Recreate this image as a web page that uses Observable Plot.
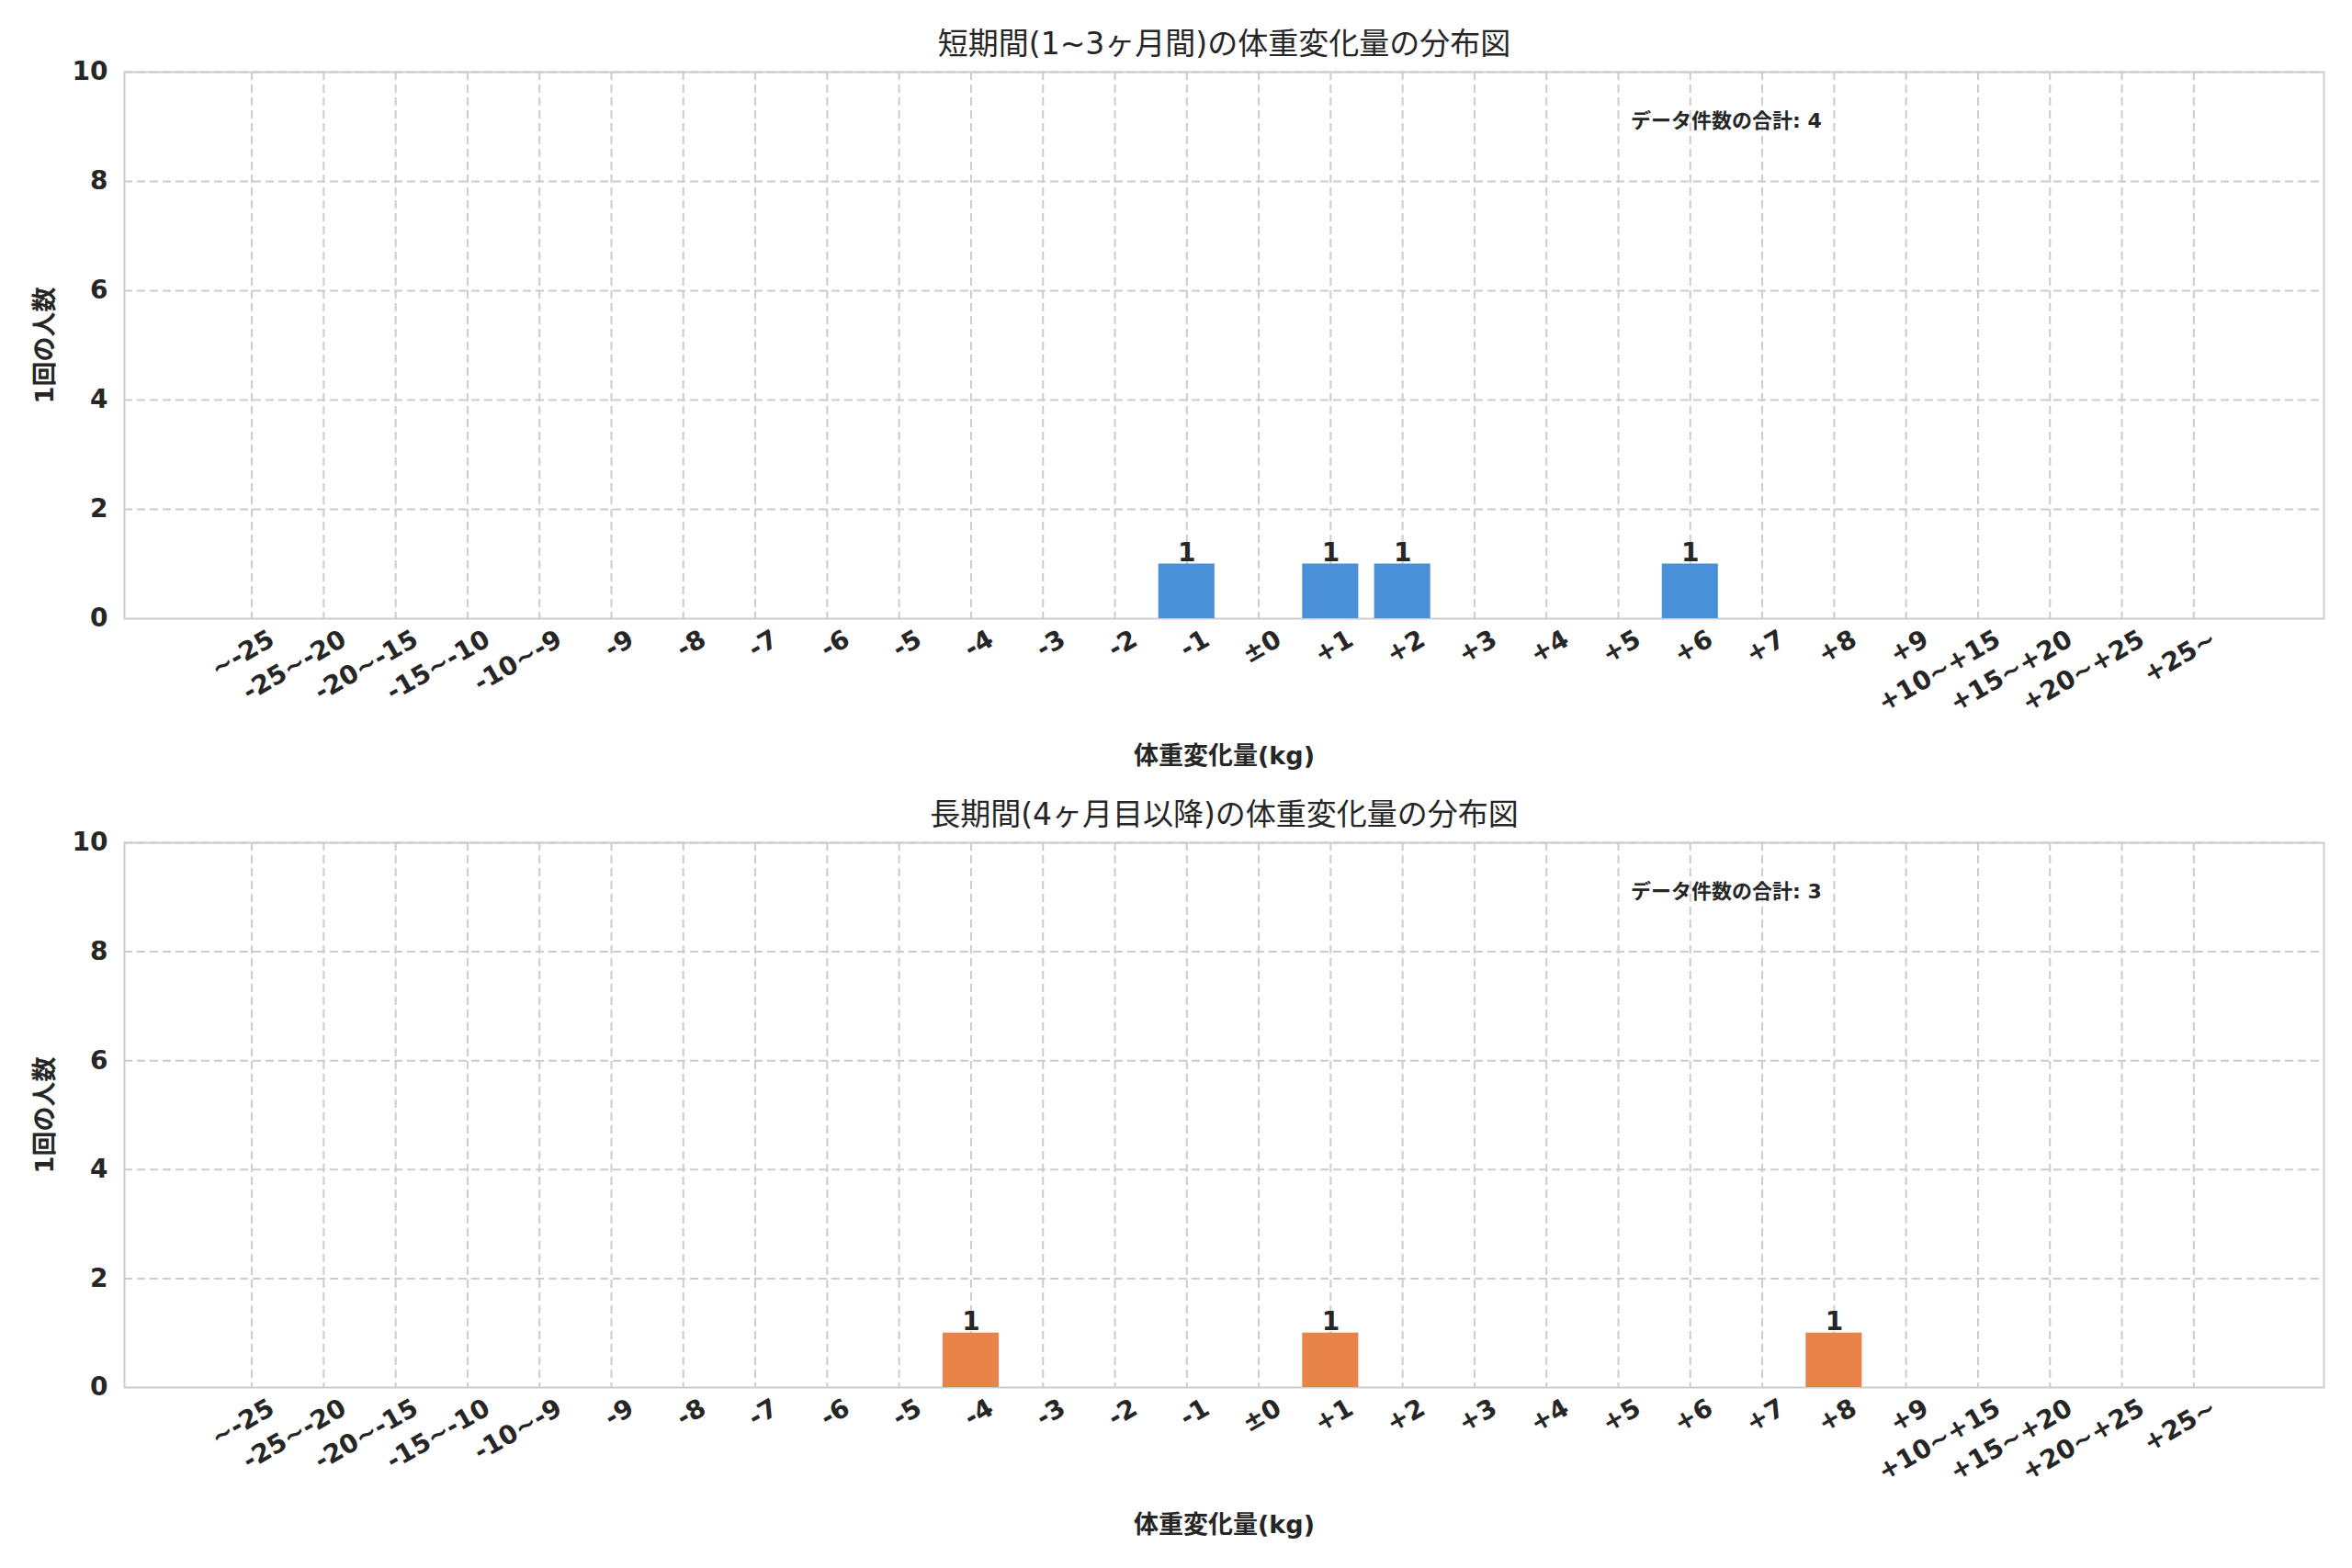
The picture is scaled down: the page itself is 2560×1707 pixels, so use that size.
<!DOCTYPE html>
<html><head><meta charset="utf-8">
<script src="https://cdn.jsdelivr.net/npm/d3@7"></script>
<script src="https://cdn.jsdelivr.net/npm/@observablehq/plot@0.6"></script>
<style>body{margin:0;background:#fff;font-family:"DejaVu Sans","Noto Sans CJK JP",sans-serif}svg{display:block}</style>
</head><body><div id="c"></div>
<script>
const categories = ["~-25","-25~-20","-20~-15","-15~-10","-10~-9","-9","-8","-7","-6","-5","-4","-3","-2","-1","±0","+1","+2","+3","+4","+5","+6","+7","+8","+9","+10~+15","+15~+20","+20~+25","+25~"];
const shortLabels = ["-1","+1","+2","+6"];
const shortCounts = [1,1,1,1];
const longLabels = ["-4","+1","+8"];
const longCounts = [1,1,1];
const titles = ["短期間(1~3ヶ月間)の体重変化量の分布図","長期間(4ヶ月目以降)の体重変化量の分布図"];
const totals = ["データ件数の合計: 4","データ件数の合計: 3"];
const colors = ["#4a90d9","#e8834a"];
const yTicks = [0,2,4,6,8,10];

function chart(labels, counts, title, total, color, h, mt, mb){
  const data = labels.map((l,k)=>({i:categories.indexOf(l), v:counts[k]}));
  const idx = categories.map((_,i)=>i);
  return Plot.plot({
    width:2560, height:h, marginTop:mt, marginBottom:mb, marginLeft:135, marginRight:31,
    style:{fontFamily:"DejaVu Sans, Noto Sans CJK JP, sans-serif", fontWeight:"bold", fontSize:"28px", color:"#262626"},
    x:{domain:[-1.77,28.81], label:null},
    y:{domain:[0,10], label:null},
    marks:[
      Plot.ruleX(idx,{stroke:"#cccccc",strokeWidth:2,strokeDasharray:"9,5"}),
      Plot.ruleY(yTicks.slice(1),{stroke:"#cccccc",strokeWidth:2,strokeDasharray:"9,5"}),
      Plot.frame({stroke:"#cccccc",strokeWidth:2}),
      Plot.rectY(data,{x1:d=>d.i-0.39,x2:d=>d.i+0.39,y:"v",fill:color}),
      Plot.text(data,{x:"i",y:"v",text:d=>String(d.v),dy:-12,fontSize:28,fontWeight:"bold",fill:"#262626"}),
      Plot.axisY({ticks:yTicks,tickSize:0,tickPadding:18,fontSize:28,label:null}),
      Plot.axisX({ticks:idx,tickFormat:i=>categories[i],tickSize:0,tickRotate:-30,tickPadding:14,fontSize:28,label:null,textAnchor:"end",dx:22,dy:6}),
      Plot.text([title],{frameAnchor:"top",lineAnchor:"middle",dy:-30,fontSize:33,fontWeight:"normal",fill:"#262626"}),
      Plot.text([total],{x:20.5,y:9.1,fontSize:22,fontWeight:"bold",fill:"#262626"}),
      Plot.text(["体重変化量(kg)"],{frameAnchor:"bottom",lineAnchor:"middle",dy:150,fontSize:27,fontWeight:"bold",fill:"#262626"}),
      Plot.text(["1回の人数"],{frameAnchor:"left",textAnchor:"middle",dx:-86,rotate:-90,fontSize:27,fontWeight:"bold",fill:"#262626"})
    ]
  });
}
const c = document.getElementById("c");
c.append(chart(shortLabels,shortCounts,titles[0],totals[0],colors[0],853,78,180));
c.append(chart(longLabels,longCounts,titles[1],totals[1],colors[1],854,64,197));
</script></body></html>
